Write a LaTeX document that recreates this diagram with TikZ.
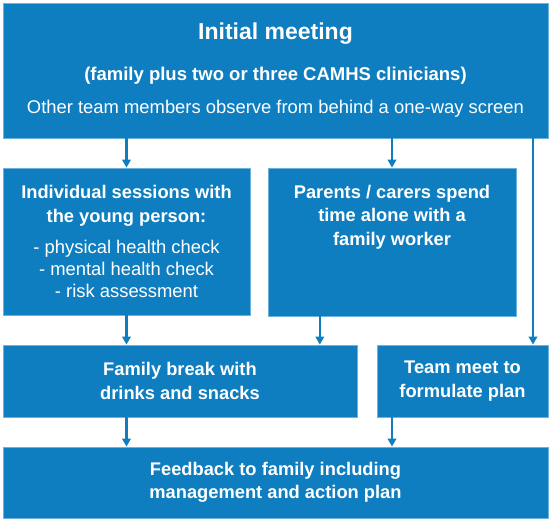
\documentclass[tikz,border=0pt]{standalone}
\usepackage{fontspec}
\setmainfont{Liberation Sans}
\usetikzlibrary{arrows.meta,positioning,calc}
\definecolor{Flow}{HTML}{0E7EC0}
\definecolor{FlowEdge}{HTML}{6DB2DD}
\newcommand{\stepnote}{\mdseries\fontsize{18.4}{21.7}\selectfont}

\begin{document}
\begin{tikzpicture}[x=1pt,y=-1pt,
  box/.style={draw=FlowEdge,fill=Flow,line width=0.8pt,inner sep=0pt,text=white,align=center,
    font=\fontsize{18.3}{23.5}\selectfont\bfseries},
  arr/.style={draw=Flow,line width=2.1pt,-{Triangle[width=8.5pt,length=8pt]}}]
\path[use as bounding box] (0,0) rectangle (550,521);

% top row
\node[box,minimum width=545pt,minimum height=135pt] (meet) at (275.5,70.5)
  {{\fontsize{23}{26}\selectfont Initial meeting}\\[17pt]
   {\fontsize{18.5}{22}\selectfont (family plus two or three CAMHS clinicians)}\\[10pt]
   {\stepnote Other team members observe from behind a one-way screen}};

% middle row
\node[box,minimum width=247pt,minimum height=147pt] (young) at (126.5,241.5)
  {Individual sessions with\\the young person:\\[8pt]
   {\stepnote - physical health check}\\[-1.8pt]
   {\stepnote - mental health check}\\[-1.8pt]
   {\stepnote - risk assessment}};
\node[box,minimum width=248pt,minimum height=148pt] (carer) at (392,242) {};
\node[box,draw=none,fill=none,below=17pt of carer.north] (carertxt)
  {Parents / carers spend\\time alone with a\\family worker};

% lower rows
\node[box,minimum width=354pt,minimum height=72pt] (snack) at (180,381)
  {Family break with\\drinks and snacks};
\node[box,minimum width=171pt,minimum height=72pt] (plan) at (462.5,381)
  {Team meet to\\formulate plan};
\node[box,minimum width=545pt,minimum height=71pt] (feedback) at (275.5,482.5)
  {Feedback to family including\\management and action plan};

% connectors
\coordinate (rail) at (533,138);
\coordinate (carerout) at ($(carer.south west)!0.21!(carer.south east)$);
\draw[arr] (meet.south -| young.north) -- (young.north);
\draw[arr] (meet.south -| carer.north) -- (carer.north);
\draw[arr] (rail) -- (rail |- plan.north);
\draw[arr] (young.south) -- (young.south |- snack.north);
\draw[arr] (carerout) -- (carerout |- snack.north);
\draw[arr] (snack.south -| young.south) -- (young.south |- feedback.north);
\draw[arr] (plan.south -| carer.south) -- (carer.south |- feedback.north);
\end{tikzpicture}
\end{document}
